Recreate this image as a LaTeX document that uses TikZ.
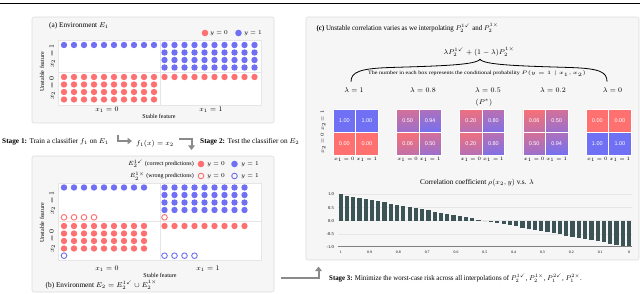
\documentclass[tikz,border=0pt]{standalone}
\usepackage{fontspec}
\setmainfont{Liberation Serif}
\setsansfont{Liberation Sans}
\usepackage{amsmath,amssymb}
\usepackage{graphicx}
\usetikzlibrary{arrows.meta}
\definecolor{dred}{RGB}{255,112,112}
\definecolor{dblue}{RGB}{112,112,245}
\definecolor{panelbg}{RGB}{246,246,246}
\definecolor{panelbd}{RGB}{220,220,220}
\definecolor{agray}{RGB}{138,138,138}
\definecolor{barc}{RGB}{60,84,86}
\definecolor{gridc}{RGB}{230,230,230}
\newcommand\fsz[1]{\fontsize{#1}{#1}\selectfont}
\newcommand\pcell[6]{\node[cell,top color=dblue!#5!dred,bottom color=dblue!#6!dred] (#1) at (#2,#3) {#4};}
\begin{document}
\begin{tikzpicture}[x=1pt,y=-1pt,
  panel/.style={draw=panelbd,fill=panelbg,rounded corners=2pt,line width=0.6pt},
  plotarea/.style={fill=white,draw=gridc,line width=0.5pt},
  divider/.style={draw=gridc,line width=0.7pt},
  txt/.style={inner sep=0pt,font=\fsz{7.3}},
  small/.style={inner sep=0pt,font=\fsz{6}},
  lab/.style={inner sep=0pt,font=\fsz{5.3}},
  tiny/.style={inner sep=0pt,font=\fsz{4.5}},
  flow/.style={draw=agray,line width=2pt,-{Triangle[width=6.5pt,length=4.5pt]}},
  rdot/.style={fill=dred},
  bdot/.style={fill=dblue},
  ropen/.style={draw=dred,line width=0.9pt},
  bopen/.style={draw=dblue,line width=0.9pt},
  cell/.style={minimum width=22.6pt,minimum height=22.8pt,draw=white,line width=0.5pt,inner sep=0pt,text=white,font=\sffamily\fsz{5.5}},
  bar/.style={fill=barc}
]
\useasboundingbox (0,0) rectangle (640,294);
% header rule
\draw[line width=1.4pt] (0,3.5) -- (640,3.5);

% ---------------- panel (a)
\draw[panel] (32,17) rectangle (274,123);
\node[txt,anchor=west] (ta) at (49,26) {(a) Environment $E_1$};
\fill[rdot] (205,33) circle (3.3);
\node[small,anchor=west] (la0) at (210,33) {$y=0$};
\fill[bdot] (238.5,33) circle (3.3);
\node[small,anchor=west] (la1) at (244,33) {$y=1$};
\draw[plotarea] (58,40) rectangle (261,105);
\draw[divider] (58,72.5) -- (261,72.5);
\draw[divider] (160.5,40) -- (160.5,105);
\foreach \i in {0,...,9} {
  \fill[bdot] (64+10*\i,45) circle (3.2);
  \fill[rdot] (164.5+10*\i,77) circle (3.2);
  \foreach \r in {0,...,3} {
    \fill[rdot] (64+10*\i,77+7.5*\r) circle (3.2);
    \fill[bdot] (164.5+10*\i,45+7.5*\r) circle (3.2);
  }
}
\node[txt,rotate=90] (az1) at (52,56) {$x_2=1$};
\node[txt,rotate=90] (az0) at (52,88) {$x_2=0$};
\node[small,rotate=90] (auf) at (42,72) {Unstable feature};
\node[txt] (ax0) at (107,109.5) {$x_1=0$};
\node[txt] (ax1) at (211,109.5) {$x_1=1$};
\node[small] (asf) at (159,116.5) {Stable feature};

% ---------------- stage row
\node[txt,anchor=west] (s1) at (2,142) {\textbf{Stage 1:} Train a classifier $f_1$ on $E_1$};
\node[txt] (fx) at (155,143.5) {$f_1(x)=x_2$};
\node[txt,anchor=west] (s2) at (200,142) {\textbf{Stage 2:} Test the classifier on $E_2$};
\coordinate (a1s) at (118,135);
\coordinate (a1e) at (132,141);
\draw[flow] (a1s) |- (a1e);
\coordinate (a2s) at (179,139.5);
\coordinate (a2e) at (191.5,150);
\draw[flow] (a2s) -| (a2e);

% ---------------- panel (b)
\draw[panel] (32,156) rectangle (274,292);
\node[small,anchor=east] (lg1) at (194,164) {$E_2^{1\checkmark}$ (correct predictions)};
\fill[rdot] (201,164) circle (3.3);
\node[small,anchor=west] (lb0) at (207,164) {$y=0$};
\fill[bdot] (234.5,164) circle (3.3);
\node[small,anchor=west] (lb1) at (241,164) {$y=1$};
\node[small,anchor=east] (lg2) at (194,176) {$E_2^{1\times}$ (wrong predictions)};
\draw[ropen] (201,176) circle (2.8);
\node[small,anchor=west] (lc0) at (207,176) {$y=0$};
\draw[bopen] (234.5,176) circle (2.8);
\node[small,anchor=west] (lc1) at (241,176) {$y=1$};
\draw[plotarea] (58,183) rectangle (261,260);
\draw[divider] (58,221.5) -- (261,221.5);
\draw[divider] (160.5,183) -- (160.5,260);
\foreach \i in {0,...,8} {
  \fill[bdot] (64+10*\i,187.5) circle (3.2);
  \fill[rdot] (164.5+10*\i,226) circle (3.2);
  \foreach \r in {0,...,3} {
    \fill[rdot] (64+10*\i,226+7.5*\r) circle (3.2);
    \fill[bdot] (164.5+10*\i,187.5+7.5*\r) circle (3.2);
  }
}
\foreach \i in {0,...,3} {
  \draw[ropen] (64+10*\i,217.3) circle (2.8);
  \draw[bopen] (164.5+10*\i,255.7) circle (2.8);
}
\draw[bopen] (64,255.7) circle (2.8);
\draw[ropen] (164.5,217.3) circle (2.8);
\node[txt,rotate=90] (bz1) at (52,203) {$x_2=1$};
\node[txt,rotate=90] (bz0) at (52,241) {$x_2=0$};
\node[small,rotate=90] (buf) at (42,223) {Unstable feature};
\node[txt] (bx0) at (107,269) {$x_1=0$};
\node[txt] (bx1) at (208,269) {$x_1=1$};
\node[small] (bsf) at (160,275) {Stable feature};
\node[txt,anchor=west] (tb) at (45.5,285) {(b) Environment $E_2=E_2^{1\checkmark}\cup E_2^{1\times}$};

% ---------------- panel (c)
\draw[panel] (306,17) rectangle (639,260);
\node[txt,anchor=west] (tc) at (316.5,28) {\scalebox{0.94}[1]{\textbf{(c)} Unstable correlation varies as we interpolating $P_2^{1\checkmark}$ and $P_2^{1\times}$}};
\node[txt] (mix) at (479,52) {$\lambda P_2^{1\checkmark}+(1-\lambda)P_2^{1\times}$};
\draw[line width=0.8pt] (351,81.7) .. controls (351,72) and (360,68.5) .. (390,67.5)
  .. controls (440,66) and (476,65) .. (480,59.3)
  .. controls (484,65) and (520,66) .. (570,67.5)
  .. controls (600,68.5) and (607,72) .. (607,81.7);
\node[inner sep=0pt] (note) at (477,73.5) {\scalebox{1.22}[1]{\fsz{5}The number in each box represents the conditional probability $P(y=1\mid x_1,x_2)$}};
\node[txt] (l1) at (354,90) {$\lambda=1$};
\node[txt] (l2) at (423,90) {$\lambda=0.8$};
\node[txt] (l3) at (488,90) {$\lambda=0.5$};
\node[txt] (l4) at (553,90) {$\lambda=0.2$};
\node[txt] (l5) at (612.5,90) {$\lambda=0$};
\node[txt] (pstar) at (484,102.5) {$(P^{*})$};
% boxes
\pcell{c1a}{344.3}{120.7}{1.00}{100}{100}
\pcell{c1b}{366.9}{120.7}{1.00}{100}{100}
\pcell{c1c}{344.3}{143.5}{0.00}{0}{0}
\pcell{c1d}{366.9}{143.5}{0.00}{0}{0}
\pcell{c2a}{407.6}{120.7}{0.50}{30}{70}
\pcell{c2b}{430.2}{120.7}{0.94}{56}{96}
\pcell{c2c}{407.6}{143.5}{0.06}{4}{44}
\pcell{c2d}{430.2}{143.5}{0.50}{30}{70}
\pcell{c3a}{470.8}{120.7}{0.20}{12}{52}
\pcell{c3b}{493.4}{120.7}{0.80}{48}{88}
\pcell{c3c}{470.8}{143.5}{0.20}{12}{52}
\pcell{c3d}{493.4}{143.5}{0.80}{48}{88}
\pcell{c4a}{534.1}{120.7}{0.06}{4}{44}
\pcell{c4b}{556.7}{120.7}{0.50}{30}{70}
\pcell{c4c}{534.1}{143.5}{0.50}{30}{70}
\pcell{c4d}{556.7}{143.5}{0.94}{56}{96}
\pcell{c5a}{597.3}{120.7}{0.00}{0}{0}
\pcell{c5b}{619.9}{120.7}{0.00}{0}{0}
\pcell{c5c}{597.3}{143.5}{1.00}{100}{100}
\pcell{c5d}{619.9}{143.5}{1.00}{100}{100}
\node[lab,rotate=90] (cz1) at (323,120.7) {$x_2=1$};
\node[lab,rotate=90] (cz0) at (323,143.5) {$x_2=0$};
\foreach \b in {1,...,5} {
  \node[lab] at (c\b c.south |- 0,159.5) {$x_1=0$};
  \node[lab] at (c\b d.south |- 0,159.5) {$x_1=1$};
}
% bar chart
\node[txt] (ct) at (477,183) {Correlation coefficient $\rho(x_2,y)$ v.s. $\lambda$};
\foreach \v/\l in {1/1.0,0.5/0.5,0/0.0,-0.5/-0.5} {
  \draw[gridc,line width=0.6pt] (338,220.7-26.3*\v) -- (632,220.7-26.3*\v);
  \node[tiny,anchor=east] at (334,220.7-26.3*\v) {\l};
}
\node[tiny,anchor=east] at (334,246.7) {-1.0};
\foreach \k in {0,...,46} {
  \pgfmathsetmacro\bx{340.7+\k*288.3/46}
  \pgfmathsetmacro\bh{26.3*(1-2*\k/46)}
  \fill[bar] (\bx-2.1,220.7) rectangle (\bx+2.1,220.7-\bh);
}
\draw[draw=gray,line width=1.1pt] (338,246.7) -- (632,246.7);
\foreach \t [count=\j from 0] in {1,0.9,0.8,0.7,0.6,0.5,0.4,0.3,0.2,0.1,0} {
  \node[tiny,font=\fsz{3.8}] at (340.7+\j*28.83,252) {\t};
}
% stage 3
\coordinate (a3s) at (281,278);
\coordinate (a3e) at (318.5,266.5);
\draw[flow] (a3s) -| (a3e);
\node[txt,anchor=west] (s3) at (329,278.5) {\scalebox{0.94}[1]{\textbf{Stage 3:} Minimize the worst-case risk across all interpolations of $P_2^{1\checkmark}$, $P_2^{1\times}$, $P_1^{2\checkmark}$, $P_1^{2\times}$.}};
\end{tikzpicture}
\end{document}
